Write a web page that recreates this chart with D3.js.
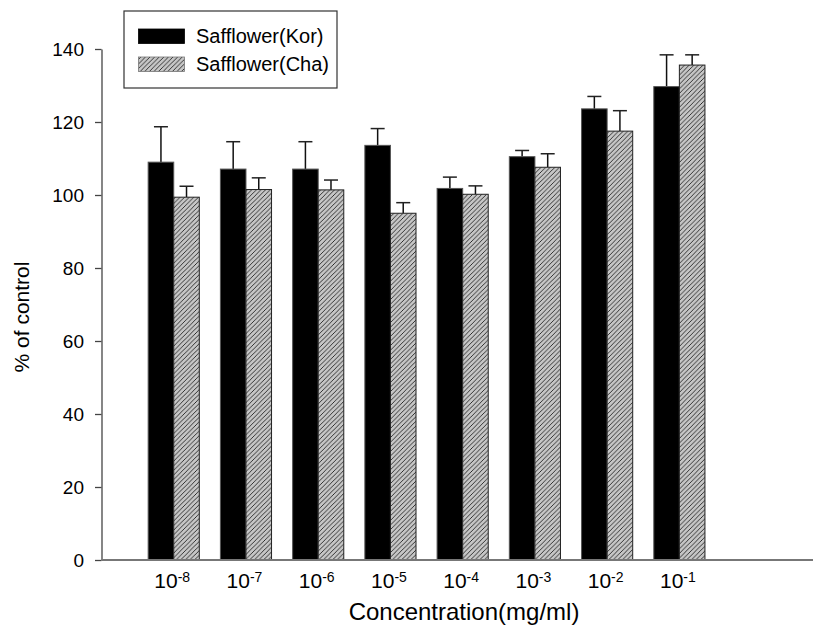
<!DOCTYPE html>
<html>
<head>
<meta charset="utf-8">
<script src="https://cdn.jsdelivr.net/npm/d3@7/dist/d3.min.js"></script>
<style>
  html, body { margin: 0; padding: 0; background: #fff; }
  svg { display: block; font-family: "Liberation Sans", Arial, sans-serif; }
</style>
</head>
<body>
<svg id="chart" width="813" height="626"></svg>
<script>
// Concentration exponents (10^x mg/ml)
const exponents = [-8, -7, -6, -5, -4, -3, -2, -1];
const seriesNames = ["Safflower(Kor)", "Safflower(Cha)"];
// Mean % of control and upper error (SD)
const korValues = [109.0, 107.1, 107.1, 113.6, 101.8, 110.5, 123.6, 129.7];
const korErrors = [9.7, 7.5, 7.5, 4.6, 3.1, 1.7, 3.4, 8.7];
const chaValues = [99.4, 101.5, 101.4, 95.0, 100.2, 107.6, 117.5, 135.6];
const chaErrors = [3.0, 3.2, 2.7, 2.9, 2.3, 3.7, 5.6, 2.8];
const yTicks = [0, 20, 40, 60, 80, 100, 120, 140];

const svg = d3.select("#chart");

// hatch pattern for the second series
const defs = svg.append("defs");
const pat = defs.append("pattern")
  .attr("id", "hatch")
  .attr("patternUnits", "userSpaceOnUse")
  .attr("width", 4.6).attr("height", 4.6);
pat.append("rect").attr("width", 4.6).attr("height", 4.6).attr("fill", "#c6c6c6");
pat.append("path")
  .attr("d", "M-1,1 l2,-2 M0,4.6 l4.6,-4.6 M3.6,5.6 l2,-2")
  .attr("stroke", "#1a1a1a").attr("stroke-width", 0.85);

const x0 = 101.5, xEnd = 813, yBase = 560, yTop = 49;
const x = d3.scaleLinear().domain([0, 9.85]).range([x0, xEnd]);
const y = d3.scaleLinear().domain([0, 140]).range([yBase, yTop]);
const barW = x(0.354) - x(0);

const groups = exponents.map((e, i) => ({
  pos: i + 1,
  exp: e,
  kor: korValues[i], korErr: korErrors[i],
  cha: chaValues[i], chaErr: chaErrors[i]
}));

// bars
const bars = [];
groups.forEach(g => {
  bars.push({ x: x(g.pos) - barW, v: g.kor, err: g.korErr, fill: "#000", stroke: "#555" });
  bars.push({ x: x(g.pos), v: g.cha, err: g.chaErr, fill: "url(#hatch)", stroke: "#222" });
});

// error bars (upper only), drawn behind bars
const eb = svg.append("g");
bars.forEach(b => {
  const cx = b.x + barW / 2;
  eb.append("line")
    .attr("x1", cx).attr("x2", cx)
    .attr("y1", y(b.v)).attr("y2", y(b.v + b.err))
    .attr("stroke", "#111").attr("stroke-width", 1.5);
  eb.append("line")
    .attr("x1", cx - 7).attr("x2", cx + 7)
    .attr("y1", y(b.v + b.err)).attr("y2", y(b.v + b.err))
    .attr("stroke", "#222").attr("stroke-width", 1.5);
});

svg.append("g").selectAll("rect").data(bars).join("rect")
  .attr("x", d => d.x)
  .attr("y", d => y(d.v))
  .attr("width", barW)
  .attr("height", d => y(0) - y(d.v))
  .attr("fill", d => d.fill)
  .attr("stroke", d => d.stroke)
  .attr("stroke-width", 1);

// y axis
const yAxis = svg.append("g")
  .attr("transform", `translate(${x0},0)`)
  .call(d3.axisLeft(y).tickValues(yTicks).tickSize(6.5).tickPadding(11).tickSizeOuter(0));
yAxis.select(".domain").attr("stroke", "#444").attr("stroke-width", 1.3);
yAxis.selectAll(".tick line").attr("stroke", "#444").attr("stroke-width", 1.3);
yAxis.selectAll("text").attr("font-size", 19).attr("fill", "#000")
  .attr("font-family", "Liberation Sans, Arial, sans-serif");

// x axis with superscript exponent labels
const xAxis = svg.append("g")
  .attr("transform", `translate(0,${yBase})`)
  .call(d3.axisBottom(x).tickValues(groups.map(g => g.pos)).tickSize(0).tickPadding(13).tickFormat(""));
xAxis.select(".domain").attr("d", `M${x0},0H${xEnd}`)
  .attr("stroke", "#777").attr("stroke-width", 2);
xAxis.selectAll(".tick text").each(function(d, i) {
  const t = d3.select(this)
    .attr("font-size", 21).attr("fill", "#000")
    .attr("font-family", "Liberation Sans, Arial, sans-serif")
    .attr("text-anchor", "middle")
    .attr("dx", -2);
  t.text(null);
  t.append("tspan").text("10");
  t.append("tspan").attr("dy", "-0.45em").attr("font-size", 14).text(String(groups[i].exp));
});

// axis titles
svg.append("text")
  .attr("x", 464).attr("y", 620)
  .attr("text-anchor", "middle")
  .attr("font-size", 24)
  .text("Concentration(mg/ml)");

svg.append("text")
  .attr("transform", "translate(29,317) rotate(-90)")
  .attr("text-anchor", "middle")
  .attr("font-size", 21)
  .text("% of control");

// legend
const lg = svg.append("g");
lg.append("rect")
  .attr("x", 124).attr("y", 11).attr("width", 213).attr("height", 77)
  .attr("fill", "#fff").attr("stroke", "#333").attr("stroke-width", 1.2);
const legendFills = ["#000", "url(#hatch)"];
seriesNames.forEach((name, i) => {
  lg.append("rect")
    .attr("x", 138.5).attr("y", 29 + i * 28).attr("width", 46).attr("height", 14.5)
    .attr("fill", legendFills[i]).attr("stroke", i ? "#777" : "#000").attr("stroke-width", 0.8);
  lg.append("text")
    .attr("x", 196).attr("y", 43.3 + i * 27.4)
    .attr("font-size", 20)
    .text(name);
});
</script>
</body>
</html>
